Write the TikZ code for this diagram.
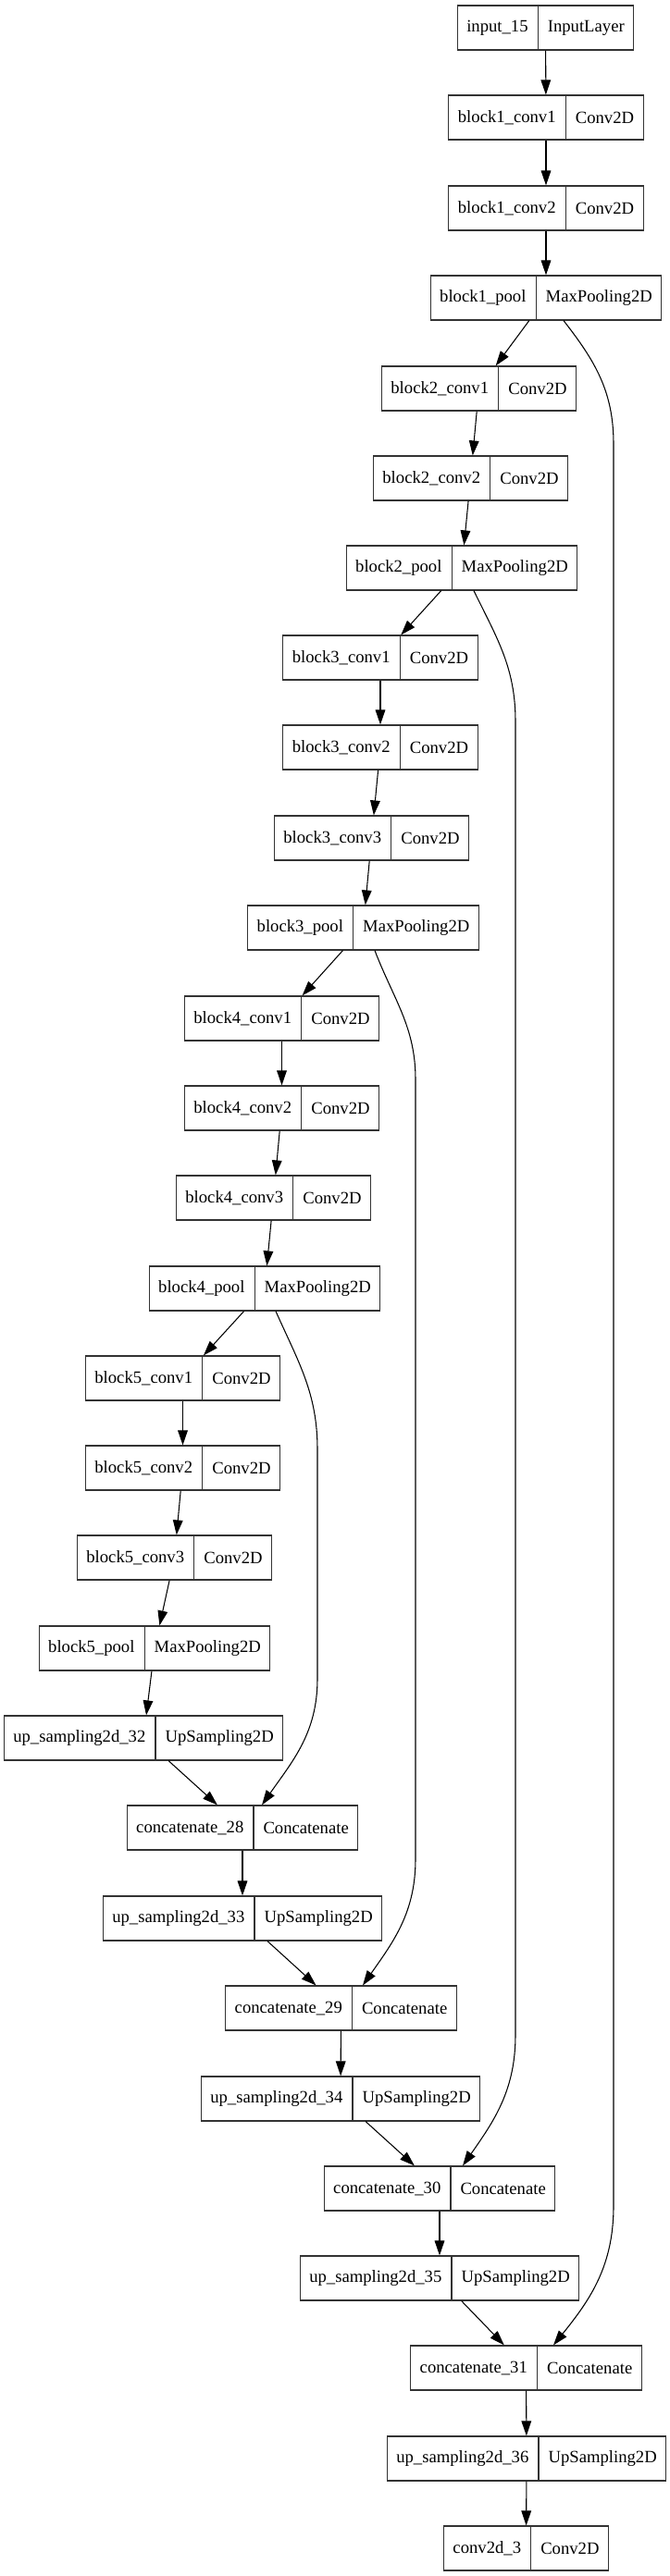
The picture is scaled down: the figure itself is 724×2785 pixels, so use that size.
\documentclass[tikz,border=0pt]{standalone}
\usepackage{fontspec}
\setmainfont{Liberation Serif}
\usepackage{xcolor}
\usetikzlibrary{arrows.meta}
\usetikzlibrary{shapes.multipart}
\usetikzlibrary{calc}
\definecolor{boxgray}{HTML}{333333}
\tikzset{
  layer/.style={rectangle split, rectangle split horizontal, rectangle split parts=2,
    draw=boxgray, line width=0.9pt, inner xsep=7.5pt, inner ysep=0pt,
    minimum height=36pt, font=\fontsize{14pt}{16pt}\selectfont},
  edge/.style={line width=0.8pt, -{Triangle[length=12pt,width=8pt]}},
  skip/.style={edge},
}

\begin{document}
\begin{tikzpicture}[x=0.75pt,y=-0.75pt]
\useasboundingbox (0,0) rectangle (724,2785);
% encoder
\node[layer] (in15) at (589.5,30) {input\_15\nodepart{two}InputLayer};
\node[layer] (b1c1) at (590,127) {block1\_conv1\nodepart{two}Conv2D};
\node[layer] (b1c2) at (590,225) {block1\_conv2\nodepart{two}Conv2D};
\node[layer] (b1pool) at (590,322) {block1\_pool\nodepart{two}MaxPooling2D};
\node[layer] (b2c1) at (517.5,420) {block2\_conv1\nodepart{two}Conv2D};
\node[layer] (b2c2) at (508.5,517) {block2\_conv2\nodepart{two}Conv2D};
\node[layer] (b2pool) at (499,614) {block2\_pool\nodepart{two}MaxPooling2D};
\node[layer] (b3c1) at (411,711) {block3\_conv1\nodepart{two}Conv2D};
\node[layer] (b3c2) at (411,808) {block3\_conv2\nodepart{two}Conv2D};
\node[layer] (b3c3) at (401.5,906) {block3\_conv3\nodepart{two}Conv2D};
\node[layer] (b3pool) at (392.5,1003) {block3\_pool\nodepart{two}MaxPooling2D};
\node[layer] (b4c1) at (304.5,1101) {block4\_conv1\nodepart{two}Conv2D};
\node[layer] (b4c2) at (304.5,1198) {block4\_conv2\nodepart{two}Conv2D};
\node[layer] (b4c3) at (295.5,1295) {block4\_conv3\nodepart{two}Conv2D};
\node[layer] (b4pool) at (286,1393) {block4\_pool\nodepart{two}MaxPooling2D};
\node[layer] (b5c1) at (197.5,1490) {block5\_conv1\nodepart{two}Conv2D};
\node[layer] (b5c2) at (197.5,1587) {block5\_conv2\nodepart{two}Conv2D};
\node[layer] (b5c3) at (188.5,1684) {block5\_conv3\nodepart{two}Conv2D};
\node[layer] (b5pool) at (167,1782) {block5\_pool\nodepart{two}MaxPooling2D};
% decoder
\node[layer] (up32) at (155,1879) {up\_sampling2d\_32\nodepart{two}UpSampling2D};
\node[layer] (cat28) at (262,1976) {concatenate\_28\nodepart{two}Concatenate};
\node[layer] (up33) at (262,2074) {up\_sampling2d\_33\nodepart{two}UpSampling2D};
\node[layer] (cat29) at (368.5,2171) {concatenate\_29\nodepart{two}Concatenate};
\node[layer] (up34) at (368,2269) {up\_sampling2d\_34\nodepart{two}UpSampling2D};
\node[layer] (cat30) at (475,2366) {concatenate\_30\nodepart{two}Concatenate};
\node[layer] (up35) at (475,2463) {up\_sampling2d\_35\nodepart{two}UpSampling2D};
\node[layer] (cat31) at (568.5,2560) {concatenate\_31\nodepart{two}Concatenate};
\node[layer] (up36) at (569,2658) {up\_sampling2d\_36\nodepart{two}UpSampling2D};
\node[layer] (out) at (568.5,2755) {conv2d\_3\nodepart{two}Conv2D};
% main chain
\draw[edge] (in15) -- (b1c1);
\draw[edge] (b1c1) -- (b1c2);
\draw[edge] (b1c2) -- (b1pool);
\draw[edge] (b1pool) -- (b2c1);
\draw[edge] (b2c1) -- (b2c2);
\draw[edge] (b2c2) -- (b2pool);
\draw[edge] (b2pool) -- (b3c1);
\draw[edge] (b3c1) -- (b3c2);
\draw[edge] (b3c2) -- (b3c3);
\draw[edge] (b3c3) -- (b3pool);
\draw[edge] (b3pool) -- (b4c1);
\draw[edge] (b4c1) -- (b4c2);
\draw[edge] (b4c2) -- (b4c3);
\draw[edge] (b4c3) -- (b4pool);
\draw[edge] (b4pool) -- (b5c1);
\draw[edge] (b5c1) -- (b5c2);
\draw[edge] (b5c2) -- (b5c3);
\draw[edge] (b5c3) -- (b5pool);
\draw[edge] (b5pool) -- (up32);
\draw[edge] (up32) -- (cat28);
\draw[edge] (cat28) -- (up33);
\draw[edge] (up33) -- (cat29);
\draw[edge] (cat29) -- (up34);
\draw[edge] (up34) -- (cat30);
\draw[edge] (cat30) -- (up35);
\draw[edge] (up35) -- (cat31);
\draw[edge] (cat31) -- (up36);
\draw[edge] (up36) -- (out);
% skip connections
\coordinate (s1a) at (663,480);  \coordinate (s1b) at (663,2385);
\coordinate (s2a) at (557,780);  \coordinate (s2b) at (557,2200);
\coordinate (s3a) at (449,1167); \coordinate (s3b) at (449,2010);
\coordinate (s4a) at (343,1567); \coordinate (s4b) at (343,1815);
\draw[skip] ($(b1pool.south)+(19,0)$) to[out=-52,in=90] (s1a) -- (s1b) to[out=-90,in=51] ($(cat31.north)+(29.5,0)$);
\draw[skip] ($(b2pool.south)+(13,0)$) to[out=-64,in=90] (s2a) -- (s2b) to[out=-90,in=55] ($(cat30.north)+(25,0)$);
\draw[skip] ($(b3pool.south)+(12.5,0)$) to[out=-69,in=90] (s3a) -- (s3b) to[out=-90,in=55] ($(cat29.north)+(23.5,0)$);
\draw[skip] ($(b4pool.south)+(12,0)$) to[out=-66,in=90] (s4a) -- (s4b) to[out=-90,in=55] ($(cat28.north)+(21,0)$);
\end{tikzpicture}
\end{document}
